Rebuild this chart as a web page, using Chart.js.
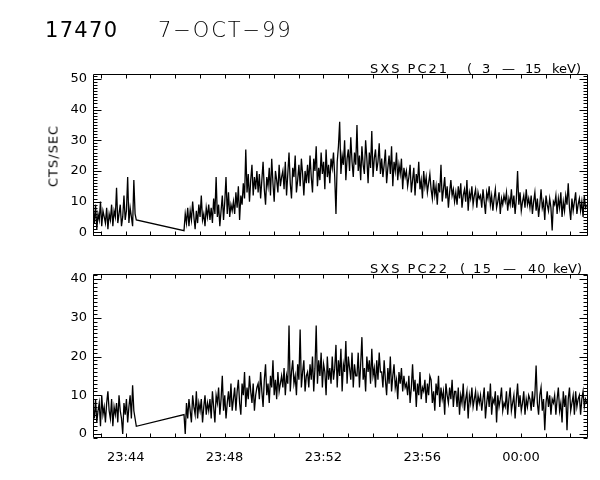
<!DOCTYPE html>
<html><head><meta charset="utf-8">
<script src="https://cdn.jsdelivr.net/npm/chart.js@4.4.0/dist/chart.umd.min.js"></script>
<style>
html,body{margin:0;padding:0;background:#fff;}
body{width:600px;height:480px;overflow:hidden;position:relative;font-family:"DejaVu Sans",sans-serif;color:#000;}
.cw{position:absolute;left:0;}
canvas{display:block;}
.t{position:absolute;white-space:pre;line-height:1;z-index:5;}
.lab{font-size:13px;top:62px;}
.lab2{font-size:13px;top:262px;}
</style></head><body>
<div class="cw" style="top:0;width:600px;height:250px"><canvas id="c1" width="600" height="250"></canvas></div>
<div class="cw" style="top:250px;width:600px;height:230px"><canvas id="c2" width="600" height="230"></canvas></div>

<div class="t" style="left:45px;top:20px;font-size:21px;letter-spacing:1.3px">17470</div>
<div class="t" style="left:158px;top:20px;font-size:21px;letter-spacing:1.9px;font-weight:200">7−OCT−99</div>

<div class="t lab" style="left:370px;letter-spacing:2px">SXS PC21</div>
<div class="t lab" style="left:467px">(</div>
<div class="t lab" style="left:482px">3</div>
<div class="t lab" style="left:502px">—</div>
<div class="t lab" style="left:525px">15</div>
<div class="t lab" style="left:552px">keV)</div>

<div class="t lab2" style="left:370px;letter-spacing:2px">SXS PC22</div>
<div class="t lab2" style="left:460px">(</div>
<div class="t lab2" style="left:473px;letter-spacing:1.5px">15</div>
<div class="t lab2" style="left:503px">—</div>
<div class="t lab2" style="left:528px;letter-spacing:1px">40</div>
<div class="t lab2" style="left:553px">keV)</div>

<div class="t" style="left:53px;top:156px;font-size:13px;letter-spacing:1px;transform:translate(-50%,-50%) rotate(-90deg);">CTS/SEC</div>

<script>
// ---- time grid (minutes after 23:40), one sample every 3 s ----
const seg1StartMin = 2.68;
const seg2StartMin = 6.36;
const sampleStepMin = 0.05;

// ---- axis ranges and tick labels ----
const xMin = 2.677, xMax = 22.71;
const xTickValues = [4, 8, 12, 16, 20];
const xTickLabels = ['23:44', '23:48', '23:52', '23:56', '00:00'];
const y1TickValues = [0, 10, 20, 30, 40, 50];
const y2TickValues = [0, 10, 20, 30, 40];
const y1Range = [-1.28, 51.6];
const y2Range = [-1.03, 41.3];

// ---- SXS PC21 (3 - 15 keV) counts/sec ----
const pc21Seg1 = [8,3,9,1,6,4,10,2,7,5,3,8,1,6,4,9,2,7,5,14.5,3,6,9,2,5,12,4,7,18,3,8,5,2,17,6,4];
const pc21Seg2 = [
  0.5,6,3,8,2,7,4,10,5,1,7,3,9,5,12,4,6,2,8,5,
  9,4,8,3,11,6,18,5,9,2,7,12,4,10,18,6,13,5,9,7,
  10,6,13,8,15,4,12,9,16,11,27,13,19,10,17,22,12,18,14,20,
  13,19,11,17,23,14,9,18,15,21,12,24,16,10,20,17,13,22,15,18,
  20,14,23,12,19,26,16,11,21,18,25,13,17,22,15,24,19,12,20,16,
  22,16,25,18,13,24,20,28,15,21,17,26,19,23,14,27,18,22,16,24,
  21,26,18,6,23,28,36,19,25,22,30,17,24,27,20,31,23,18,26,22,
  35,20,25,17,28,22,19,30,24,16,26,21,33,18,24,27,20,23,29,19,
  24,18,22,27,16,21,25,19,28,15,23,20,26,17,22,19,24,14,21,18,
  20,15,18,22,13,17,21,12,19,16,23,14,17,11,20,15,18,13,16,19,
  14,11,17,12,15,9,16,13,22,10,14,18,11,15,8,13,17,12,14,10,
  13,9,15,11,16,8,12,14,10,17,7,13,11,15,9,12,14,8,13,11,
  12,8,14,10,6,13,11,15,9,12,7,11,14,8,10,13,6,11,9,12,
  10,13,7,11,9,14,8,12,6,11,20,9,13,7,10,12,8,14,9,11,
  8,12,6,10,13,7,11,5,9,14,8,10,4,12,9,7,11,8,0.6,10,
  9,12,6,11,8,13,5,10,7,12,9,16,8,4,11,7,10,13,6,9,
  11,7,10,5,12,8,9
];

// ---- SXS PC22 (15 - 40 keV) counts/sec ----
const pc22Seg1 = [7,4,9,3,6,8,2,10,5,7,3,8,11,6,4,9,2,7,5,8,3,10,6,4,0,8,5,9,3,7,10,4,12.6,6,4,2];
const pc22Seg2 = [
  5,0,8,4,9,6,3,10,7,5,11,4,8,6,9,3,7,10,5,8,
  6,9,4,11,7,3,10,8,12,5,9,15,6,10,4,8,11,7,13,6,
  9,12,6,11,14,8,5,13,10,16,7,12,9,15,11,8,13,6,10,12,
  13,9,16,11,7,14,18,10,13,8,15,12,19,10,14,9,16,11,13,15,
  12,17,10,15,13,28,11,16,19,13,15,10,18,14,27,12,16,19,11,15,
  16,12,18,14,20,11,17,28,13,19,15,21,12,18,16,10,20,14,17,13,
  20,14,17,23,12,19,15,22,11,18,16,24,13,20,17,14,21,12,18,15,
  15,21,12,18,25,14,17,11,20,16,19,13,22,15,17,12,19,14,21,16,
  16,12,19,14,10,17,13,20,11,15,18,12,14,9,16,13,17,11,15,12,
  13,10,15,8,12,18,11,14,7,13,10,16,9,12,11,14,8,13,10,15,
  14,8,11,6,13,10,15,7,12,9,11,5,13,10,8,12,9,14,7,11,
  11,7,12,5,10,8,13,6,9,11,4,10,8,12,7,9,11,6,10,8,
  10,6,9,12,4,8,11,7,13,5,9,8,11,3,10,7,9,12,6,8,
  7,11,5,9,12,6,8,10,4,9,13,7,10,6,8,11,5,9,7,10,
  9,6,11,7,10,17.7,8,5,10,12,6,9,1,8,11,7,10,5,9,8,
  10,5,9,12,6,8,3,11,7,10,1,9,12,6,8,10,5,11,7,9,
  10,5,9,11,7,9,8
];

function toPoints(seg1, seg2) {
  const a = seg1.map((v, i) => ({ x: seg1StartMin + i * sampleStepMin, y: v }));
  const b = seg2.map((v, i) => ({ x: seg2StartMin + i * sampleStepMin, y: v }));
  return a.concat(b);
}

const frameTicks = {
  id: 'frameTicks',
  afterDraw(chart) {
    const ctx = chart.ctx;
    const { left, right, top, bottom } = chart.chartArea;
    const x = chart.scales.x, y = chart.scales.y;
    ctx.save();
    ctx.strokeStyle = '#000';
    ctx.lineWidth = 1;
    const L = Math.round(left) + 0.5, R = Math.round(right) - 0.5;
    const T = Math.round(top) + 0.5, B = Math.round(bottom) - 0.5;
    ctx.beginPath();
    ctx.rect(L, T, R - L, B - T);
    for (let v = Math.ceil(y.min); v <= y.max; v++) {
      const py = Math.round(y.getPixelForValue(v)) + 0.5;
      const len = (v % 10 === 0) ? 8 : 4;
      ctx.moveTo(L, py); ctx.lineTo(L + len, py);
      ctx.moveTo(R, py); ctx.lineTo(R - len, py);
    }
    for (let m = Math.ceil(x.min); m <= x.max; m++) {
      const px = Math.round(x.getPixelForValue(m)) + 0.5;
      ctx.moveTo(px, B); ctx.lineTo(px, B - 4);
      ctx.moveTo(px, T); ctx.lineTo(px, T + 4);
    }
    ctx.stroke();
    ctx.restore();
  }
};

const tickFont = { family: 'DejaVu Sans', size: 13 };

function makeChart(id, points, yRange, yTicks, showX, padding) {
  return new Chart(document.getElementById(id), {
    type: 'line',
    data: { datasets: [{ data: points, borderColor: '#000', borderWidth: 1.3, pointRadius: 0, tension: 0, fill: false }] },
    options: {
      responsive: false, animation: false, events: [],
      layout: { padding: padding },
      plugins: { legend: { display: false }, tooltip: { enabled: false }, title: { display: false } },
      scales: {
        x: {
          type: 'linear', min: xMin, max: xMax,
          grid: { display: false, drawTicks: false }, border: { display: false },
          afterBuildTicks: s => { s.ticks = xTickValues.map(v => ({ value: v })); },
          afterFit: s => { s.height = showX ? 42 : 0; },
          ticks: {
            display: showX, color: '#000', font: tickFont, padding: 12, maxRotation: 0, autoSkip: false,
            callback: v => xTickLabels[xTickValues.indexOf(v)]
          }
        },
        y: {
          type: 'linear', min: yRange[0], max: yRange[1],
          grid: { display: false, drawTicks: false }, border: { display: false },
          afterBuildTicks: s => { s.ticks = yTicks.map(v => ({ value: v })); },
          afterFit: s => { s.width = 93; },
          ticks: { color: '#000', font: tickFont, padding: 6, autoSkip: false }
        }
      }
    },
    plugins: [frameTicks]
  });
}

makeChart('c1', toPoints(pc21Seg1, pc21Seg2), y1Range, y1TickValues, false, { left: 0, right: 12, top: 74, bottom: 11 });
makeChart('c2', toPoints(pc22Seg1, pc22Seg2), y2Range, y2TickValues, true, { left: 0, right: 12, top: 24, bottom: 0 });
</script>
</body></html>
